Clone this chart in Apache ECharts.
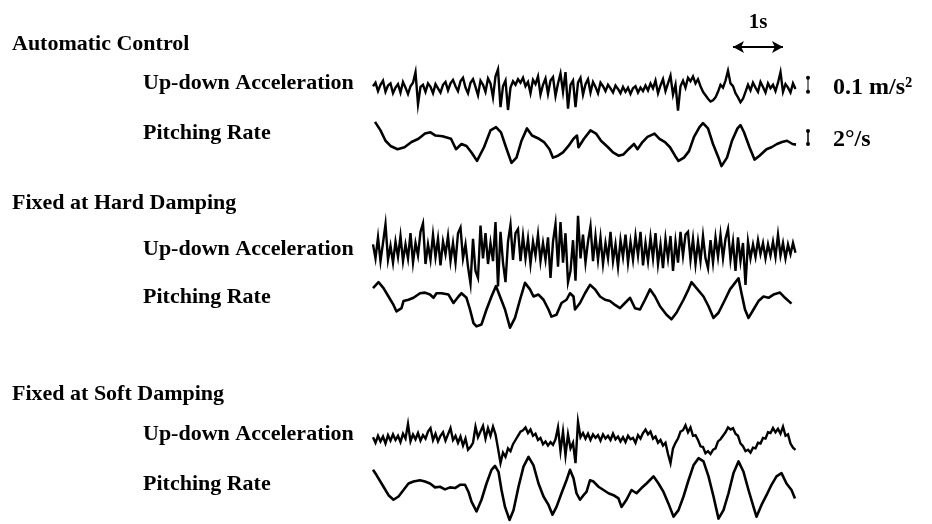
<!DOCTYPE html>
<html><head><meta charset="utf-8">
<script src="https://cdn.jsdelivr.net/npm/echarts@6/dist/echarts.min.js"></script>
<style>html,body{margin:0;padding:0;background:#fff}#c{width:932px;height:524px}</style>
</head><body><div id="c"></div>
<script>
// sampling interval of the acceleration records (s)
const accelDt = 0.05;

// Up-down acceleration, mm/s^2 (100 mm/s^2 = 0.1 m/s^2)
const accelAuto = [
 20,45,-15,30,60,-20,25,40,-30,10,
 35,-25,50,10,-35,20,45,120,-110,15,
 30,-20,40,15,-30,35,5,-25,30,50,
 -10,40,65,20,-15,55,80,10,-30,45,
 70,15,-45,60,30,-20,75,40,-60,90,
 140,-130,20,60,-150,10,55,30,70,45,
 80,20,50,-30,65,35,90,-40,30,75,
 -35,60,85,-50,40,110,-20,120,-140,30,
 60,-130,45,80,-40,35,70,-25,50,15,
 -30,45,20,-15,30,5,-25,25,0,-30,
 15,-20,10,-35,5,20,-25,10,-15,25,
 -10,40,5,60,-30,25,70,-15,40,95,
 -40,30,-155,20,60,10,80,55,90,40,
 70,20,-20,-45,-70,-90,-80,-60,-20,30,
 10,60,130,40,20,-30,-60,-95,-70,-20,
 30,-10,45,10,-20,50,15,-25,40,5,
 30,-15,45,120,-20,35,10,-25,40,0
];
const accelHard = [
 40,-60,90,-80,50,185,-70,30,-90,60,
 -50,100,-80,40,-60,120,-90,50,-40,130,
 190,-100,40,-70,110,-50,80,-110,60,-30,
 100,-80,50,-90,120,160,-60,40,-120,-240,
 80,-150,-200,175,-60,120,-100,50,-80,200,
 -260,130,-90,-230,60,180,-70,120,150,-80,
 100,-60,80,-100,60,-40,110,-80,50,-70,
 90,-200,60,185,-120,200,-90,120,-230,-150,
 70,-220,245,-60,110,-90,60,170,-80,100,
 -70,90,-100,50,-60,130,-80,40,-120,70,
 -50,110,-90,60,-70,100,-40,130,-110,50,
 -80,90,-60,120,-100,40,-130,80,-60,100,
 -150,60,-90,130,-40,110,130,-70,80,-100,
 60,-80,100,-60,-130,70,-90,90,-50,110,
 -60,80,150,-70,60,-150,90,-80,50,-250,
 60,-60,40,-50,70,-30,50,-60,40,-40,
 60,-50,110,-40,50,-60,40,-30,50,-20
];
const accelSoft = [
 20,-20,30,-10,25,-25,35,-5,40,0,
 30,-15,45,10,115,-10,40,5,50,-5,
 35,10,60,85,0,45,-10,30,55,-5,
 40,85,0,30,-20,25,-40,10,-70,-50,
 -20,95,20,60,100,10,85,30,95,40,
 -60,-165,-90,-120,-60,-80,-30,0,30,60,
 70,90,50,75,30,45,0,15,-30,-10,
 -40,-15,-35,5,90,-80,60,-110,40,-60,
 -20,-165,130,20,50,10,45,0,40,15,
 35,-5,40,10,30,0,45,5,25,-10,
 20,-15,30,5,15,-20,35,10,50,75,
 40,60,10,25,-20,0,-40,-20,-100,-165,
 -60,-20,10,60,70,105,55,90,30,35,
 0,-45,-50,-95,-80,-100,-70,-60,-10,5,
 30,55,90,75,85,45,30,-25,-45,-80,
 -70,-90,-55,-60,-20,-25,15,10,55,50,
 85,55,80,45,95,30,40,-25,-55,-70
];

// Pitching rate, [time s, deg/s]
const pitchAuto = [
 [0.04,3.4],[0.15,2.1],[0.25,0.5],[0.35,-0.3],[0.49,-0.8],[0.63,-0.5],[0.77,0.3],[0.91,0.8],
 [1.04,1.6],[1.15,1.8],[1.25,1.3],[1.39,1.2],[1.56,0.8],[1.66,-0.8],[1.77,0],[1.87,-0.3],
 [1.97,-1.3],[2.08,-2.6],[2.22,-0.5],[2.35,2.1],[2.46,2.6],[2.56,1.8],[2.66,-0.5],[2.77,-2.9],
 [2.87,-2.1],[2.97,0.5],[3.08,2.4],[3.18,1.3],[3.32,0.8],[3.42,0.3],[3.53,-0.8],[3.6,-2.1],
 [3.7,-1.8],[3.8,-1.3],[3.91,-0.3],[4.01,0.8],[4.08,1.3],[4.11,-0.5],[4.22,0.8],[4.35,2.1],
 [4.46,1.6],[4.56,0.5],[4.7,-0.5],[4.8,-1.3],[4.91,-1.8],[5.01,-1.6],[5.11,-0.8],[5.22,0],
 [5.29,-0.8],[5.39,0.3],[5.49,1.1],[5.63,1.6],[5.73,0.8],[5.84,0.3],[5.94,-0.5],[6.04,-1.8],
 [6.11,-2.6],[6.22,-2.1],[6.32,-1.1],[6.42,1.1],[6.53,2.6],[6.6,3.2],[6.7,2.4],[6.8,0],
 [6.91,-2.1],[6.97,-3.4],[7.08,-2.1],[7.18,0.5],[7.29,2.4],[7.35,2.9],[7.42,1.8],[7.53,-0.5],
 [7.63,-2.4],[7.73,-1.8],[7.87,-0.8],[7.97,-0.5],[8.08,0],[8.18,0.3],[8.28,0.5],[8.39,0],[8.46,-0.1]
];
const pitchHard = [
 [0,2.3],[0.11,3.2],[0.21,2.3],[0.31,1.0],[0.41,-0.3],[0.47,-1.3],[0.57,-0.8],[0.61,0.3],
 [0.71,0.5],[0.81,0.8],[0.94,1.5],[1.04,1.6],[1.14,1.3],[1.21,0.8],[1.27,1.5],[1.37,1.5],
 [1.51,1.3],[1.61,0],[1.71,1.0],[1.77,1.5],[1.87,0.8],[1.94,-1.0],[2.01,-3.1],[2.07,-3.6],
 [2.17,-3.3],[2.27,-1.0],[2.37,1.0],[2.46,2.6],[2.54,1.0],[2.64,-1.0],[2.74,-3.8],[2.84,-2.3],
 [2.94,0.5],[3.04,3.1],[3.14,2.1],[3.21,1.0],[3.31,1.3],[3.41,0.5],[3.51,-1.0],[3.57,-2.1],
 [3.67,-1.8],[3.77,0],[3.87,0.5],[3.94,1.5],[4.01,1.0],[4.04,-1.0],[4.14,0],[4.24,1.5],
 [4.34,2.8],[4.44,2.1],[4.54,1.0],[4.64,0.5],[4.74,0.3],[4.84,-0.3],[4.94,-0.8],[5.04,0],
 [5.14,0.8],[5.24,-0.8],[5.34,-1.0],[5.44,0.5],[5.54,2.1],[5.64,1.0],[5.74,-0.5],[5.87,-1.8],
 [5.97,-2.5],[6.07,-1.5],[6.21,0.5],[6.31,2.1],[6.37,3.2],[6.47,2.3],[6.61,1.0],[6.71,-0.5],
 [6.81,-2.3],[6.91,-1.5],[7.04,0.5],[7.14,2.1],[7.24,3.1],[7.31,3.8],[7.37,1.5],[7.44,-1.0],
 [7.51,-2.3],[7.61,-1.0],[7.71,0.3],[7.81,1.0],[7.91,0.8],[8.01,1.3],[8.14,1.6],[8.24,0.8],[8.37,-0.1]
];
const pitchSoft = [
 [0,3.1],[0.07,2.3],[0.21,0.5],[0.31,-0.8],[0.41,-1.5],[0.51,-1.0],[0.61,0],[0.71,1.0],
 [0.81,1.3],[0.94,1.5],[1.04,1.3],[1.14,1.0],[1.24,0.4],[1.34,0.5],[1.44,0.1],[1.54,0.4],
 [1.64,0.3],[1.74,0.8],[1.84,0.8],[1.91,-0.3],[1.97,-1.8],[2.07,-3.3],[2.17,-1.5],[2.27,1.0],
 [2.37,3.1],[2.44,3.7],[2.51,2.8],[2.57,0],[2.64,-2.6],[2.73,-4.6],[2.81,-3.1],[2.91,0.5],
 [3.01,3.6],[3.11,5.1],[3.21,3.8],[3.31,1.0],[3.41,-1.0],[3.51,-2.3],[3.59,-3.8],[3.67,-2.6],
 [3.77,-0.5],[3.87,1.5],[3.94,3.1],[4.01,1.8],[4.07,-0.5],[4.14,-1.5],[4.21,-0.8],[4.27,-0.3],
 [4.34,1.5],[4.41,1.3],[4.51,0.5],[4.61,0],[4.71,-0.5],[4.81,-0.8],[4.91,-1.3],[4.97,-2.6],
 [5.07,-1.5],[5.17,0],[5.27,-0.5],[5.37,0.3],[5.47,1.0],[5.61,2.1],[5.71,1.0],[5.81,-0.3],
 [5.91,-2.1],[6.01,-4.1],[6.11,-3.1],[6.21,-1.0],[6.31,1.5],[6.41,3.8],[6.51,4.9],[6.61,4.4],
 [6.71,2.1],[6.81,-1.0],[6.91,-4.4],[7.01,-3.1],[7.11,-0.5],[7.21,2.6],[7.31,4.4],[7.41,2.8],
 [7.51,0],[7.61,-2.6],[7.67,-4.1],[7.77,-2.3],[7.87,-0.8],[7.97,0.8],[8.07,2.1],[8.17,2.6],
 [8.27,1.0],[8.37,0],[8.44,-1.3]
];

// panel texts
const panelTitles = ['Automatic Control', 'Fixed at Hard Damping', 'Fixed at Soft Damping'];
const traceNames = ['Up-down Acceleration', 'Pitching Rate'];
// scale references
const accelScale = 100;   // mm/s^2  -> 0.1 m/s^2
const pitchScale = 2;     // deg/s
const timeScale = 1;      // s
const accelScaleText = '0.1 m/s²';
const pitchScaleText = '2°/s';
const timeScaleText = '1s';

const chart = echarts.init(document.getElementById('c'), null, {renderer: 'canvas'});

const FONT = 'Liberation Serif';
const grids = [
  {left: 373, width: 450, top: 40,  height: 84},   // auto accel  (-250..350)
  {left: 373, width: 450, top: 105, height: 78},   // auto pitch  (-6..6)
  {left: 373, width: 450, top: 208, height: 84},   // hard accel  (-300..300)
  {left: 373, width: 450, top: 264, height: 78},   // hard pitch  (-6..6)
  {left: 373, width: 450, top: 405, height: 70},   // soft accel  (-250..250)
  {left: 373, width: 450, top: 451, height: 71.5}  // soft pitch  (-5..6)
];
const yr = [[-250,350],[-6,6],[-300,300],[-6,6],[-250,250],[-5,6]];

const xAxis = grids.map((g,i)=>({gridIndex:i, type:'value', min:0, max:9, show:false}));
const yAxis = grids.map((g,i)=>({gridIndex:i, type:'value', min:yr[i][0], max:yr[i][1], show:false}));

const toXY = arr => arr.map((v,k)=>[+(k*accelDt).toFixed(2), v]);
const accelSets = [accelAuto, accelHard, accelSoft];
const pitchSets = [pitchAuto, pitchHard, pitchSoft];

const series = [];
for (let p = 0; p < 3; p++) {
  series.push({
    type:'line', xAxisIndex:2*p, yAxisIndex:2*p, data: toXY(accelSets[p]),
    showSymbol:false, clip:false, silent:true,
    lineStyle:{color:'#000', width:2.4, join:'miter'}
  });
  series.push({
    type:'line', xAxisIndex:2*p+1, yAxisIndex:2*p+1, data: pitchSets[p],
    showSymbol:false, clip:false, silent:true,
    lineStyle:{color:'#000', width:2.6, join:'round'}
  });
}
// time scale arrow, drawn in the automatic-control acceleration grid
series.push({
  type:'line', xAxisIndex:0, yAxisIndex:0, clip:false, silent:true,
  data:[[7.2,300],[7.2+timeScale,300]],
  symbol:'none', showSymbol:false,
  lineStyle:{color:'#000', width:2},
  markPoint:{
    silent:true, symbol:'arrow', symbolSize:[9,11],
    itemStyle:{color:'#000'}, label:{show:false},
    data:[{coord:[7.2,300], symbolRotate:90}, {coord:[7.2+timeScale,300], symbolRotate:-90}]
  }
});
series.push({
  type:'scatter', xAxisIndex:0, yAxisIndex:0, clip:false, silent:true,
  data:[[7.2+timeScale/2,300]], symbolSize:0, itemStyle:{color:'#000', opacity:1},
  label:{show:true, position:'top', distance:14, formatter:timeScaleText,
         fontFamily:FONT, fontWeight:'bold', fontSize:21, color:'#000'}
});
// amplitude scale bars (automatic control panel)
series.push({
  type:'line', xAxisIndex:0, yAxisIndex:0, clip:false, silent:true,
  data:[[8.7,-20],[8.7,-20+accelScale]],
  symbol:'circle', symbolSize:4, showSymbol:true,
  itemStyle:{color:'#000'}, lineStyle:{color:'#000', width:1}
});
series.push({
  type:'scatter', xAxisIndex:0, yAxisIndex:0, clip:false, silent:true,
  data:[[8.7,10]], symbolSize:0, itemStyle:{color:'#000', opacity:1},
  label:{show:true, position:'right', distance:25, formatter:accelScaleText,
         fontFamily:FONT, fontWeight:'bold', fontSize:24, color:'#000'}
});
series.push({
  type:'line', xAxisIndex:1, yAxisIndex:1, clip:false, silent:true,
  data:[[8.7,0],[8.7,pitchScale]],
  symbol:'circle', symbolSize:4, showSymbol:true,
  itemStyle:{color:'#000'}, lineStyle:{color:'#000', width:1.5}
});
series.push({
  type:'scatter', xAxisIndex:1, yAxisIndex:1, clip:false, silent:true,
  data:[[8.7,0.6]], symbolSize:0, itemStyle:{color:'#000', opacity:1},
  label:{show:true, position:'right', distance:25, formatter:pitchScaleText,
         fontFamily:FONT, fontWeight:'bold', fontSize:24, color:'#000'}
});

const txt = (s, x, y) => ({type:'text', left:x, top:y, style:{text:s, font:'bold 22px "Liberation Serif"', fill:'#000'}});
const titleY = [33, 192, 383];
const labelY = [[72,122],[238,286],[423,473]];
const graphic = [];
for (let p = 0; p < 3; p++) {
  graphic.push(txt(panelTitles[p], 12, titleY[p]));
  graphic.push(txt(traceNames[0], 143, labelY[p][0]));
  graphic.push(txt(traceNames[1], 143, labelY[p][1]));
}

chart.setOption({
  animation:false,
  backgroundColor:'#fff',
  grid: grids,
  xAxis, yAxis, series, graphic
});
</script>
</body></html>
